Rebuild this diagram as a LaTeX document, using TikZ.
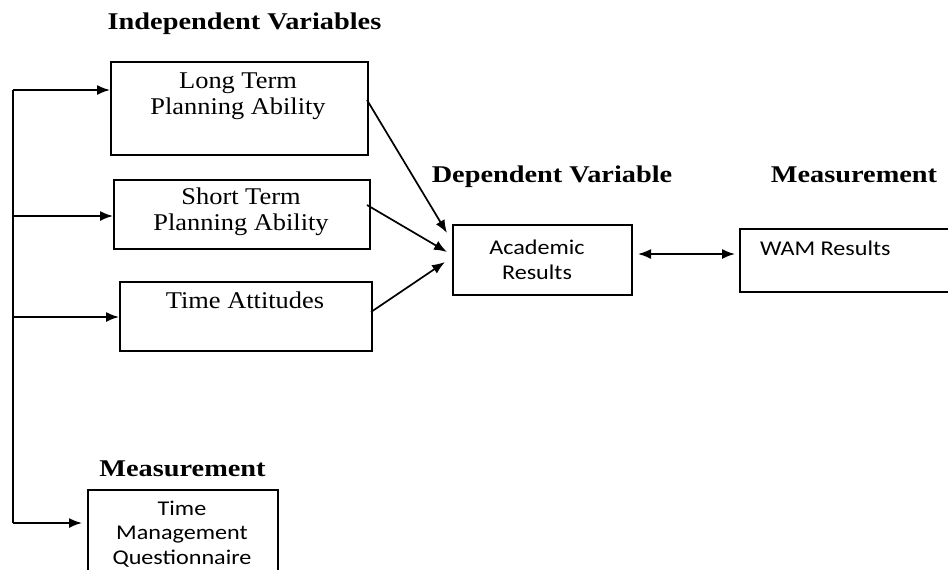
\documentclass[tikz,border=0pt]{standalone}
\usepackage{fontspec}
\setmainfont{Liberation Serif}
\newfontfamily\bodyfont[FakeStretch=1.1]{Liberation Serif}
\newfontfamily\headfont[FakeStretch=1.18]{Liberation Serif}
\newfontfamily\calfont[FakeStretch=1.15]{Carlito}
\usetikzlibrary{arrows.meta}
\begin{document}
\begin{tikzpicture}[x=1pt,y=-1pt,
  box/.style={draw, line width=1.8pt, inner sep=0pt, anchor=north west},
  bodytxt/.style={font=\bodyfont\fontsize{24}{26}\selectfont, align=center, inner sep=0pt},
  caltxt/.style={font=\calfont\fontsize{21}{25.5}\selectfont, align=center, inner sep=0pt},
  headtxt/.style={font=\headfont\bfseries\fontsize{24}{26}\selectfont, inner sep=0pt, anchor=base},
  arr/.style={line width=1.7pt, -{Latex[length=13pt,width=10pt]}},
  darr/.style={line width=1.7pt, {Latex[length=13pt,width=10pt]}-{Latex[length=13pt,width=10pt]}},
  spine/.style={line width=1.7pt}
]
\useasboundingbox (0,0) rectangle (948,570);
\fill[white] (0,0) rectangle (948,570);

% headings
\node[headtxt] (hind) at (244.5,29) {Independent Variables};
\node[headtxt] (hdep) at (552,182) {Dependent Variable};
\node[headtxt] (hmeas) at (854,182) {Measurement};
\node[headtxt] (hmeasb) at (182.5,476) {Measurement};

% independent variable boxes
\node[box, minimum width=257pt, minimum height=93pt] (lt) at (110,61) {};
\node[bodytxt] (ltt) at (238,96) {Long Term\\Planning Ability};
\node[box, minimum width=256pt, minimum height=69pt] (st) at (113,179) {};
\node[bodytxt] (stt) at (241,212) {Short Term\\Planning Ability};
\node[box, minimum width=252pt, minimum height=69pt] (ta) at (119,281) {};
\node[bodytxt, anchor=base] (tat) at (245,308) {Time Attitudes};

% dependent variable
\node[box, minimum width=179pt, minimum height=70pt] (ac) at (452,224) {};
\node[caltxt] (act) at (537,260) {Academic\\Results};

% measurement right
\node[box, minimum width=209pt, minimum height=63pt] (wam) at (739,228) {};
\node[caltxt, anchor=base west] (wamt) at (760,255) {WAM Results};

% measurement bottom
\node[box, minimum width=190pt, minimum height=100pt] (tmq) at (87,489) {};
\node[caltxt, font=\calfont\fontsize{21}{24.5}\selectfont] (tmqt) at (182,534) {Time\\Management\\Questionnaire};

% spine
\coordinate (s1) at (13,90);
\coordinate (s2) at (13,216);
\coordinate (s3) at (13,317);
\coordinate (s4) at (13,523);
\draw[spine] (s1) -- (s4);
\draw[arr] (s1) -- (s1 -| lt.west);
\draw[arr] (s2) -- (s2 -| st.west);
\draw[arr] (s3) -- (s3 -| ta.west);
\draw[arr, shorten >=5pt] (s4) -- (s4 -| tmq.west);

% converging arrows
\coordinate (o1) at (367,100);
\coordinate (o2) at (367,205);
\coordinate (o3) at (371,312);
\coordinate (e1) at (447,233);
\coordinate (e2) at (447,252);
\coordinate (e3) at (445,262);
\draw[arr] (o1) -- (e1);
\draw[arr] (o2) -- (e2);
\draw[arr] (o3) -- (e3);

% double arrow
\coordinate (d1) at (638,254);
\coordinate (d2) at (735,254);
\draw[darr] (d1) -- (d2);
\end{tikzpicture}
\end{document}
